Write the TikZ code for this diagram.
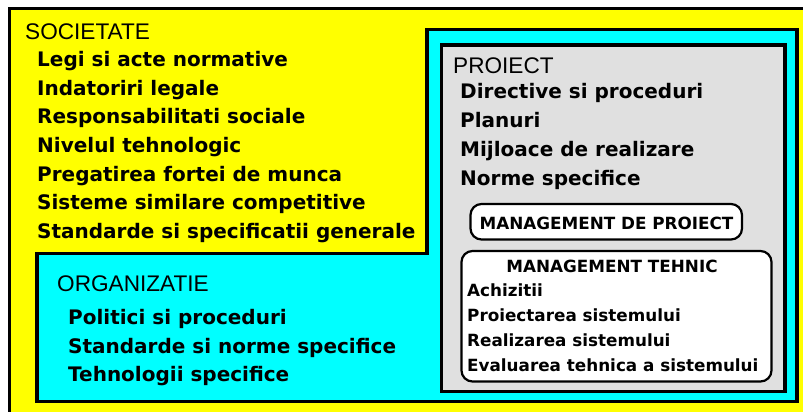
\documentclass[tikz,border=0pt]{standalone}
\usepackage{fontspec}
\setmainfont{DejaVu Sans}
\newfontfamily\hdfont{Liberation Sans}
\definecolor{socyellow}{HTML}{FFFF00}
\definecolor{orgcyan}{HTML}{00FFFF}
\definecolor{projgrey}{HTML}{E0E0E0}
\begin{document}
\begin{tikzpicture}[x=1pt,y=-1pt,
  hd/.style={anchor=base west, inner sep=0pt, font=\hdfont\fontsize{22.6}{26}\selectfont},
  it/.style={anchor=base west, inner sep=0pt, font=\bfseries\fontsize{20}{24}\selectfont},
  sm/.style={anchor=base west, inner sep=0pt, font=\bfseries\fontsize{16.8}{20}\selectfont},
  frame/.style={draw=black, line width=3.5pt},
  mbox/.style={draw=black, line width=2.2pt, fill=white, rounded corners=11pt, inner sep=0pt}]
\useasboundingbox (0,0) rectangle (803,412);
\clip (0,0) rectangle (803,412);
\fill[white] (0,0) rectangle (803,412);
% outer frame (society)
\draw[frame, line width=3pt, fill=socyellow] (9.5,8.5) rectangle (815,425);
% organisation L-shape
\draw[frame, fill=orgcyan] (427,29.5) -- (797,29.5) -- (797,401.5) -- (37,401.5) -- (37,253.5) -- (427,253.5) -- cycle;
% project box
\draw[frame, fill=projgrey] (441.5,45) rectangle (785,391.5);
% management boxes
\node[mbox, minimum width=271.5pt, minimum height=35.5pt] (mpbox) at (606.25,221.75) {};
\node[mbox, minimum width=310pt, minimum height=130.5pt] (mtbox) at (616.5,316.25) {};

% society texts
\node[hd] (soc) at (25,40) {SOCIETATE};
\node[it] (s1) at (37,66.7) {Legi si acte normative};
\node[it] (s2) at (37,95.3) {Indatoriri legale};
\node[it] (s3) at (37,123.9) {Responsabilitati sociale};
\node[it] (s4) at (37,152.5) {Nivelul tehnologic};
\node[it] (s5) at (37,181.1) {Pregatirea fortei de munca};
\node[it] (s6) at (37,209.7) {Sisteme similare competitive};
\node[it] (s7) at (37,238.3) {Standarde si specificatii generale};

% organisation texts
\node[hd] (org) at (57,291) {ORGANIZATIE};
\node[it] (o1) at (68,324.3) {Politici si proceduri};
\node[it] (o2) at (68,353) {Standarde si norme specifice};
\node[it] (o3) at (68,381.7) {Tehnologii specifice};

% project texts
\node[hd] (proj) at (453,73.3) {PROIECT};
\node[it] (p1) at (460,98) {Directive si proceduri};
\node[it] (p2) at (460,127) {Planuri};
\node[it] (p3) at (460,156) {Mijloace de realizare};
\node[it] (p4) at (460,185) {Norme specifice};

% management texts
\node[sm, anchor=base] (mpt) at (606.5,229.3) {MANAGEMENT DE PROIECT};
\node[sm, anchor=base] (mtt) at (612,272) {MANAGEMENT TEHNIC};
\node[sm] (t1) at (467,296.7) {Achizitii};
\node[sm] (t2) at (467,321.7) {Proiectarea sistemului};
\node[sm] (t3) at (467,346.7) {Realizarea sistemului};
\node[sm] (t4) at (467,371.7) {Evaluarea tehnica a sistemului};
\end{tikzpicture}
\end{document}
